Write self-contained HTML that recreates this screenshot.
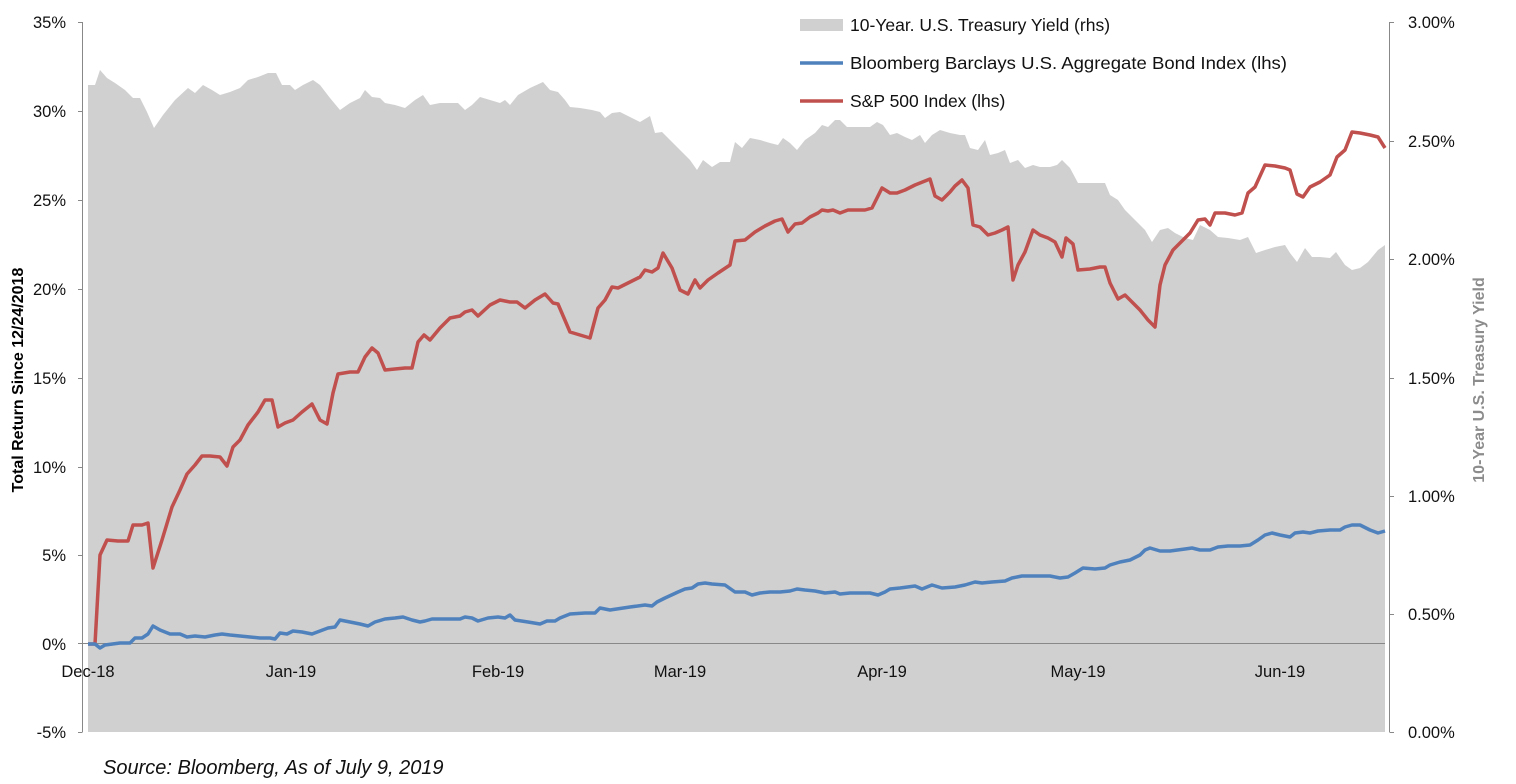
<!DOCTYPE html>
<html><head><meta charset="utf-8"><style>
body{margin:0;background:#fff;}
svg text{font-family:"Liberation Sans",sans-serif;}
</style></head><body>
<svg width="1516" height="779" xmlns="http://www.w3.org/2000/svg">
<rect width="1516" height="779" fill="#fff"/>
<polygon fill="#d0d0d0" points="88,732 88,85 95,85 100,70 107,78 115,83 125,90 133,98 140,98 147,112 154,128 163,115 175,100 188,88 195,93 203,85 212,90 220,95 230,92 240,88 248,80 258,77 268,73 276,73 282,85 290,85 295,90 303,85 313,80 320,85 330,98 340,110 350,103 360,98 365,90 372,97 380,98 385,103 395,105 405,108 415,100 423,95 430,105 440,103 450,103 458,103 465,110 472,105 480,97 490,100 500,103 505,100 510,105 518,95 530,88 543,82 550,90 558,92 565,100 570,107 580,108 592,110 600,112 605,118 612,113 620,112 630,117 640,122 650,116 655,133 662,132 670,140 680,150 690,160 697,170 703,160 712,167 720,162 730,162 735,142 742,148 750,138 760,140 770,143 778,145 783,138 790,143 797,150 805,140 815,133 822,125 828,127 835,120 840,120 847,127 855,127 862,127 870,127 877,122 883,125 890,135 897,133 905,137 912,140 920,135 925,143 932,135 940,130 950,133 960,135 965,135 970,148 978,150 985,140 990,155 998,153 1005,150 1010,163 1018,160 1025,168 1033,165 1040,167 1050,167 1057,165 1062,160 1070,168 1078,183 1085,183 1095,183 1105,183 1110,195 1118,200 1125,210 1135,220 1145,230 1152,242 1160,230 1168,228 1175,233 1185,238 1193,240 1200,225 1210,230 1218,237 1228,238 1240,240 1248,237 1256,253 1265,250 1275,247 1285,245 1290,253 1297,262 1305,248 1312,257 1320,257 1330,258 1336,252 1345,265 1352,270 1360,268 1368,262 1378,250 1385,245 1385,732"/>
<g stroke="#888" stroke-width="1">
<line x1="82.5" y1="22" x2="82.5" y2="732"/>
<path d="M78 22.5H82.5M78 111.5H82.5M78 200.5H82.5M78 289.5H82.5M78 378.5H82.5M78 467.5H82.5M78 555.5H82.5M78 732.5H82.5"/>
<line x1="78" y1="643.5" x2="1385" y2="643.5"/>
<line x1="1389.5" y1="22" x2="1389.5" y2="732"/>
<path d="M1389.5 22.5H1394M1389.5 141.5H1394M1389.5 259.5H1394M1389.5 378.5H1394M1389.5 496.5H1394M1389.5 614.5H1394M1389.5 732.5H1394"/>
</g>
<polyline fill="none" stroke="#c0504d" stroke-width="3.5" stroke-linejoin="round" points="88,644 95,644 100,555 107,540 118,541 128,541 133,525 142,525 148,523 153,568 162,540 172,507 180,490 187,474 195,465 202,456 210,456 220,457 227,466 233,447 240,440 248,425 258,412 265,400 272,400 278,427 285,423 293,420 302,412 312,404 320,420 327,424 333,393 338,374 350,372 358,372 365,357 372,348 378,353 385,370 395,369 405,368 412,368 418,342 424,335 430,340 440,328 450,318 460,316 465,312 472,310 478,316 490,305 500,300 510,302 517,302 525,308 535,300 545,294 553,303 558,304 570,332 580,335 590,338 598,308 605,300 612,287 618,288 630,282 640,277 645,270 652,272 658,268 663,253 672,268 680,290 688,294 695,280 700,288 708,280 718,273 730,265 735,241 745,240 755,232 765,226 775,221 782,219 788,232 795,224 802,223 810,217 818,213 822,210 828,211 833,210 840,213 848,210 858,210 865,210 872,208 882,188 890,193 897,193 905,190 915,185 925,181 930,179 935,196 942,200 950,192 955,186 962,180 968,188 973,225 980,227 988,235 995,233 1002,230 1008,227 1013,280 1018,265 1025,252 1033,230 1040,235 1048,238 1055,242 1062,257 1066,238 1073,244 1078,270 1090,269 1100,267 1105,267 1110,283 1118,299 1125,295 1130,300 1140,310 1148,320 1155,327 1160,285 1165,265 1173,250 1180,243 1190,233 1198,220 1205,219 1210,225 1215,213 1225,213 1235,215 1242,213 1248,193 1255,187 1265,165 1275,166 1285,168 1290,170 1297,194 1303,197 1310,187 1320,182 1330,175 1337,157 1345,150 1352,132 1360,133 1370,135 1378,137 1385,148"/>
<polyline fill="none" stroke="#4f81bd" stroke-width="3.5" stroke-linejoin="round" points="88,644 95,644 100,648 105,645 120,643 130,643 135,638 142,638 148,634 153,626 160,630 170,634 180,634 187,637 195,636 205,637 215,635 222,634 230,635 240,636 250,637 260,638 270,638 275,639 280,633 287,634 293,631 302,632 312,634 320,631 328,628 335,627 340,620 350,622 360,624 368,626 375,622 385,619 395,618 403,617 412,620 420,622 425,621 432,619 445,619 460,619 465,617 472,618 478,621 488,618 498,617 505,618 510,615 515,620 528,622 540,624 547,621 555,621 560,618 570,614 585,613 595,613 600,608 610,610 630,607 645,605 652,606 657,602 665,598 678,592 685,589 692,588 698,584 705,583 712,584 725,585 735,592 745,592 752,595 760,593 770,592 780,592 790,591 797,589 805,590 815,591 825,593 835,592 840,594 850,593 870,593 878,595 885,592 890,589 900,588 915,586 922,589 932,585 942,588 955,587 965,585 975,582 982,583 992,582 1005,581 1012,578 1022,576 1030,576 1038,576 1050,576 1060,578 1068,577 1075,573 1083,568 1095,569 1105,568 1110,565 1120,562 1130,560 1140,555 1145,550 1150,548 1160,551 1170,551 1185,549 1192,548 1200,550 1210,550 1218,547 1228,546 1240,546 1250,545 1258,540 1265,535 1272,533 1280,535 1290,537 1295,533 1303,532 1310,533 1318,531 1330,530 1340,530 1345,527 1352,525 1360,525 1370,530 1378,533 1385,531"/>
<g font-size="16.5" fill="#111" text-anchor="end">
<text x="66" y="28">35%</text><text x="66" y="117">30%</text><text x="66" y="206">25%</text><text x="66" y="295">20%</text><text x="66" y="384">15%</text><text x="66" y="473">10%</text><text x="66" y="561">5%</text><text x="66" y="650">0%</text><text x="66" y="738">-5%</text>
</g>
<g font-size="16.5" fill="#111" text-anchor="start">
<text x="1408" y="28">3.00%</text><text x="1408" y="147">2.50%</text><text x="1408" y="265">2.00%</text><text x="1408" y="384">1.50%</text><text x="1408" y="502">1.00%</text><text x="1408" y="620">0.50%</text><text x="1408" y="738">0.00%</text>
</g>
<g font-size="16.5" fill="#111" text-anchor="middle">
<text x="88" y="677">Dec-18</text><text x="291" y="677">Jan-19</text><text x="498" y="677">Feb-19</text><text x="680" y="677">Mar-19</text><text x="882" y="677">Apr-19</text><text x="1078" y="677">May-19</text><text x="1280" y="677">Jun-19</text>
</g>
<text transform="translate(23,380) rotate(-90)" text-anchor="middle" font-size="16" font-weight="bold" fill="#000">Total Return Since 12/24/2018</text>
<text transform="translate(1484,380) rotate(-90)" text-anchor="middle" font-size="16" font-weight="bold" fill="#8c8c8c">10-Year U.S. Treasury Yield</text>
<rect x="800" y="19" width="43" height="12" fill="#d0d0d0"/>
<text x="850" y="31" font-size="17.5" fill="#111">10-Year. U.S. Treasury Yield (rhs)</text>
<line x1="800" y1="63" x2="843" y2="63" stroke="#4f81bd" stroke-width="3.5"/>
<text x="850" y="69" font-size="17.5" fill="#111" textLength="437" lengthAdjust="spacingAndGlyphs">Bloomberg Barclays U.S. Aggregate Bond Index (lhs)</text>
<line x1="800" y1="101" x2="843" y2="101" stroke="#c0504d" stroke-width="3.5"/>
<text x="850" y="107" font-size="17.5" fill="#111">S&amp;P 500 Index (lhs)</text>
<text x="103" y="774" font-size="20" font-style="italic" fill="#111">Source: Bloomberg, As of July 9, 2019</text>
</svg>
</body></html>
